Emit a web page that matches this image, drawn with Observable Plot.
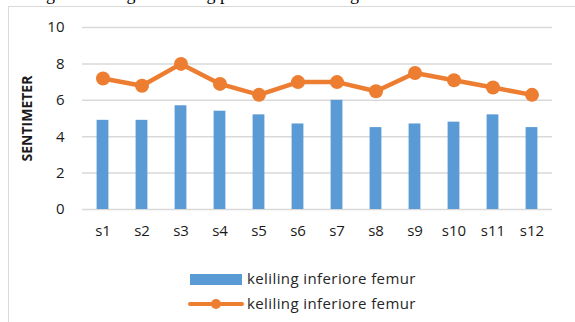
<!DOCTYPE html>
<html>
<head>
<meta charset="utf-8">
<script src="https://cdn.jsdelivr.net/npm/d3@7"></script>
<script src="https://cdn.jsdelivr.net/npm/@observablehq/plot@0.6"></script>
<style>
  html, body { margin: 0; padding: 0; background: #fff; }
  #wrap { position: relative; width: 575px; height: 322px; overflow: hidden; font-family: "Open Sans", Lato, sans-serif; }
  #frame { position: absolute; left: 8px; top: 6px; width: 600px; height: 400px; border-left: 1.5px solid #D9D9D9; border-top: 1.5px solid #D9D9D9; box-sizing: border-box; }
  #heading { position: absolute; left: 20px; top: -16px; font-family: "Liberation Serif", "Times New Roman", serif; font-size: 18px; white-space: nowrap; color: #000; }
  #chart { position: absolute; left: 0; top: 0; }
  .leg { position: absolute; left: 188px; font-size: 15px; letter-spacing: 0.4px; color: #262626; display: flex; align-items: center; white-space: nowrap; line-height: 16px; }
  .sw { width: 56px; height: 12px; position: relative; margin-right: 3px; }
</style>
</head>
<body>
<div id="wrap">
  <div id="heading">Diagram batang dan tulang paha untuk keliling femur</div>
  <div id="frame"></div>
  <div id="chart"></div>
  <div class="leg" id="leg1" style="top:270px;"><div class="sw"><div style="position:absolute;left:2px;top:2px;width:52px;height:11px;background:#5B9BD5"></div></div><span>keliling inferiore femur</span></div>
  <div class="leg" id="leg2" style="top:295px;"><div class="sw"><div style="position:absolute;left:0;top:5px;width:56px;height:4px;background:#ED7D31;border-radius:2px"></div><div style="position:absolute;left:23px;top:2px;width:10px;height:10px;border-radius:5px;background:#ED7D31"></div></div><span>keliling inferiore femur</span></div>
</div>
<script>
const categories = ["s1","s2","s3","s4","s5","s6","s7","s8","s9","s10","s11","s12"];
const barValues  = [4.9, 4.9, 5.7, 5.4, 5.2, 4.7, 6.0, 4.5, 4.7, 4.8, 5.2, 4.5];
const lineValues = [7.2, 6.8, 8.0, 6.9, 6.3, 7.0, 7.0, 6.5, 7.5, 7.1, 6.7, 6.3];
const yTicks = [0, 2, 4, 6, 8, 10];
const seriesName = "keliling inferiore femur";
const yTitle = "SENTIMETER";

const data = categories.map((c, i) => ({cat: c, bar: barValues[i], line: lineValues[i]}));

const chart = Plot.plot({
  width: 575,
  height: 322,
  marginTop: 27,
  marginBottom: 113,
  marginLeft: 82,
  marginRight: 23,
  style: {fontFamily: "'Open Sans', Lato, sans-serif", fontSize: "15px", color: "#1a1a1a", background: "transparent"},
  x: {domain: categories, padding: 0, label: null},
  y: {domain: [0, 10], label: null},
  marks: [
    Plot.gridY(yTicks, {stroke: "#D9D9D9", strokeOpacity: 1, strokeWidth: 1.5}),
    Plot.barY(data, {x: "cat", y: "bar", fill: "#5B9BD5", insetLeft: 13.6, insetRight: 13.6}),
    Plot.line(data, {x: "cat", y: "line", stroke: "#ED7D31", strokeWidth: 4.5}),
    Plot.dot(data, {x: "cat", y: "line", fill: "#ED7D31", r: 7}),
    Plot.axisY(yTicks, {tickSize: 0, tickPadding: 18, label: null, fontSize: 15}),
    Plot.axisX({tickSize: 0, tickPadding: 16, label: null, fontSize: 15}),
    Plot.text([yTitle], {frameAnchor: "left", textAnchor: "middle", dx: -54.5, rotate: -90, fontWeight: "bold", fontSize: 14, text: d => d})
  ]
});
document.getElementById("chart").appendChild(chart);
</script>
</body>
</html>
